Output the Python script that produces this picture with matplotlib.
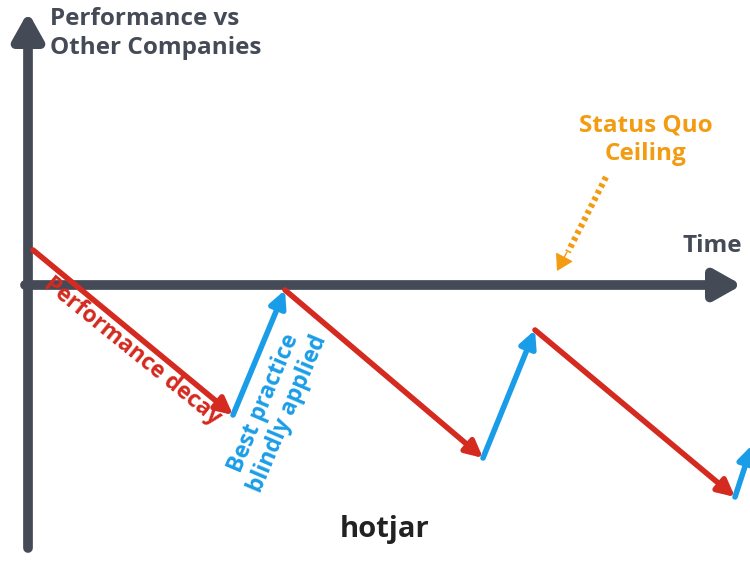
import matplotlib
matplotlib.use("Agg")
import matplotlib.pyplot as plt

# zigzag path (pixel-like diagram coordinates)
path_x = [33, 233, 285, 483, 535, 735, 752]
path_y = [250, 415, 290, 458, 330, 497, 445]
seg_colors = ["#d42a20", "#1a9de8", "#d42a20", "#1a9de8", "#d42a20", "#1a9de8"]
labels = ["Performance vs\nOther Companies", "Time", "Status Quo\nCeiling",
          "Performance decay", "Best practice\nblindly applied", "hotjar"]

plt.rcParams['font.family'] = ['Open Sans', 'DejaVu Sans']
fig = plt.figure(figsize=(7.5, 5.62), dpi=100)
ax = fig.add_axes([0, 0, 1, 1])
ax.set_xlim(0, 750); ax.set_ylim(562, 0); ax.axis('off')

dark = "#454a57"
ax.annotate("", xy=(28, 12), xytext=(28, 548),
            arrowprops=dict(arrowstyle="-|>,head_length=1.6,head_width=0.9", lw=7, color=dark, shrinkA=0, shrinkB=0))
ax.annotate("", xy=(742, 285), xytext=(25, 285),
            arrowprops=dict(arrowstyle="-|>,head_length=1.6,head_width=0.9", lw=7, color=dark, shrinkA=0, shrinkB=0))

for i in range(len(seg_colors)):
    ax.annotate("", xy=(path_x[i+1], path_y[i+1]), xytext=(path_x[i], path_y[i]),
                arrowprops=dict(arrowstyle="-|>,head_length=1.0,head_width=0.5", lw=4,
                                color=seg_colors[i], shrinkA=0, shrinkB=0),
                annotation_clip=False)

fs = 17.5
ax.text(50, 7, labels[0], fontsize=fs, fontweight='bold', color=dark, va='top', ha='left', linespacing=1.25)
ax.text(742, 246, labels[1], fontsize=fs, fontweight='bold', color=dark, va='center', ha='right')
ax.text(646, 140, labels[2], fontsize=fs, fontweight='bold', color="#f39c12", va='center', ha='center', linespacing=1.25)
orange = "#f39c12"
ax.plot([606, 568], [177, 252], color=orange, lw=4.5, ls=(0, (0.6, 0.6)), solid_capstyle='butt')
ax.annotate("", xy=(557, 271), xytext=(567, 252),
            arrowprops=dict(arrowstyle="-|>,head_length=1.0,head_width=0.6", lw=1,
                            color=orange, shrinkA=0, shrinkB=0))
ax.text(132, 351, labels[3], fontsize=16.5, fontweight='bold', color="#d42a20", va='center', ha='center',
        rotation=-39, rotation_mode='anchor')
ax.text(276, 408, labels[4], fontsize=16.5, fontweight='bold', color="#1a9de8", va='center', ha='center',
        rotation=67, rotation_mode='anchor', linespacing=1.15)
ax.text(385, 530, labels[5], fontsize=21, fontweight='bold', color="#222222", va='center', ha='center')
fig.savefig("out.png", dpi=100)
